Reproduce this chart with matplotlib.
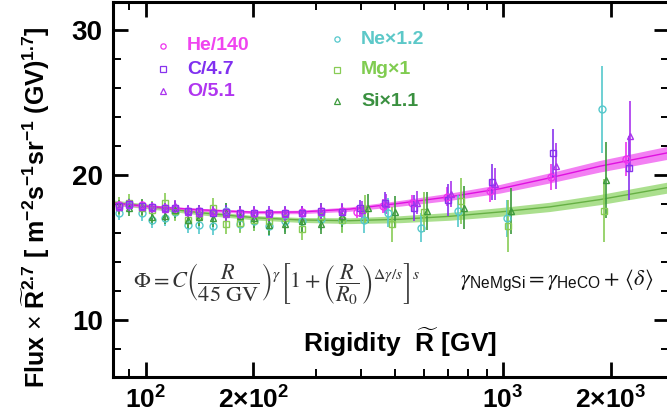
import matplotlib
matplotlib.use("Agg")
import matplotlib.pyplot as plt
from matplotlib.ticker import FixedLocator, NullFormatter

plt.rcParams['font.family'] = ['Liberation Sans', 'DejaVu Sans']
plt.rcParams['mathtext.fontset'] = 'custom'
plt.rcParams['mathtext.rm'] = 'Liberation Sans'
plt.rcParams['mathtext.bf'] = 'Liberation Sans:bold'
plt.rcParams['mathtext.it'] = 'Liberation Sans:italic'

# common low-rigidity bins (GV)
R_low = [84, 90, 97.5, 104.5, 113, 121, 131, 141.5, 154, 168, 184, 201,
         222, 246, 274, 310, 355]

R_he = R_low + [391, 462, 557, 698, 920, 1361, 2206]
he = [17.95, 18.0, 17.9, 17.8, 17.75, 17.7, 17.55, 17.5, 17.45, 17.45, 17.4, 17.4,
      17.35, 17.4, 17.45, 17.5, 17.55, 17.45, 17.85, 18.1, 18.5, 18.9, 19.85, 21.1]
he_err = [0.25, 0.25, 0.25, 0.25, 0.25, 0.25, 0.25, 0.25, 0.25, 0.3, 0.3, 0.3,
          0.3, 0.3, 0.35, 0.35, 0.35, 0.4, 0.5, 0.55, 0.65, 0.75, 0.9, 1.2]

R_c = R_low + [398, 468, 563, 703, 932, 1380, 2250]
c = [17.85, 18.0, 17.85, 17.8, 17.7, 17.75, 17.55, 17.55, 17.4, 17.45, 17.4, 17.4,
     17.38, 17.38, 17.38, 17.55, 17.45, 17.7, 18.1, 17.7, 18.3, 19.5, 21.5, 20.5]
c_err = [0.35, 0.35, 0.35, 0.35, 0.35, 0.4, 0.4, 0.4, 0.4, 0.45, 0.45, 0.45,
         0.45, 0.5, 0.5, 0.5, 0.55, 0.6, 0.7, 0.9, 1.1, 1.25, 1.65, 2.2]

R_o = R_low + [404, 472, 575, 715, 950, 1404, 2273]
o = [17.8, 17.9, 17.8, 17.75, 17.65, 17.85, 17.45, 17.4, 17.5, 17.3, 17.3, 17.35,
     17.3, 17.3, 17.35, 17.45, 17.5, 17.6, 18.0, 18.1, 18.7, 19.4, 20.6, 22.7]
o_err = [0.35, 0.35, 0.35, 0.35, 0.35, 0.4, 0.4, 0.4, 0.4, 0.45, 0.45, 0.45,
         0.45, 0.5, 0.5, 0.5, 0.55, 0.6, 0.7, 0.8, 0.9, 1.1, 1.6, 2.4]

R_ne = R_low + [409, 476, 588, 750, 1023, 1892]
ne = [17.4, 17.9, 17.35, 16.9, 17.0, 17.45, 16.55, 16.55, 16.45, 17.5, 16.65, 16.8,
      16.45, 16.8, 16.85, 16.95, 16.9, 16.9, 17.4, 16.35, 17.5, 17.0, 24.55]
ne_err = [0.5, 0.5, 0.5, 0.55, 0.55, 0.55, 0.55, 0.6, 0.6, 0.6, 0.6, 0.65,
          0.65, 0.7, 0.7, 0.75, 0.8, 0.9, 1.0, 1.0, 1.1, 1.3, 3.0]

R_mg = R_low + [412, 489, 600, 765, 1033, 1914]
mg = [17.86, 18.06, 17.7, 17.6, 18.1, 17.5, 16.9, 17.2, 17.7, 16.6, 16.7, 16.9,
      16.8, 17.0, 16.3, 17.2, 16.9, 17.65, 16.6, 17.45, 18.2, 16.5, 17.55]
mg_err = [0.6, 0.6, 0.6, 0.6, 0.65, 0.65, 0.65, 0.7, 0.7, 0.7, 0.7, 0.75,
          0.75, 0.8, 0.8, 0.85, 0.9, 1.0, 1.2, 1.4, 1.6, 1.8, 2.2]

R_si = R_low + [419, 498, 613, 777, 1055, 1942]
si = [17.8, 17.75, 17.8, 17.1, 17.2, 17.6, 16.9, 17.1, 17.0, 17.4, 17.2, 17.0,
      16.55, 16.65, 16.85, 16.65, 17.2, 17.7, 17.45, 17.5, 17.75, 17.5, 19.65]
si_err = [0.5, 0.55, 0.55, 0.55, 0.55, 0.6, 0.6, 0.6, 0.6, 0.65, 0.65, 0.65,
          0.7, 0.7, 0.75, 0.75, 0.8, 1.0, 1.1, 1.3, 1.5, 1.6, 2.6]

# fitted curves with uncertainty bands
R_fit = [81, 100, 142, 203, 271, 373, 515, 710, 980, 1351, 1863, 2914]
fit_heco = [18.07, 17.85, 17.6, 17.43, 17.45, 17.65, 18.05, 18.5, 19.05, 19.8, 20.6, 21.55]
band_heco = [0.12, 0.1, 0.1, 0.1, 0.12, 0.15, 0.2, 0.25, 0.3, 0.35, 0.4, 0.45]
fit_nemgsi = [18.1, 17.85, 17.4, 17.05, 16.9, 16.85, 16.95, 17.15, 17.45, 17.8, 18.3, 19.15]
band_nemgsi = [0.18, 0.16, 0.15, 0.15, 0.17, 0.2, 0.24, 0.27, 0.3, 0.32, 0.35, 0.38]

col_he, col_c, col_o = '#ee33ee', '#8833ee', '#aa33ee'
col_ne, col_mg, col_si = '#55c8cc', '#88cc55', '#3d9a3d'

fig = plt.figure(figsize=(6.67, 4.2), dpi=100)
ax = fig.add_axes([112.5 / 667, 1 - 377 / 420, (669 - 112.5) / 667, (377 - 1.7) / 420])
ax.set_xscale('log')
ax.set_xlim(80.8, 2914)
ax.set_ylim(6.07, 31.95)

lo = [f - b for f, b in zip(fit_nemgsi, band_nemgsi)]
hi = [f + b for f, b in zip(fit_nemgsi, band_nemgsi)]
ax.fill_between(R_fit, lo, hi, color='#96d872', alpha=0.8, lw=0, zorder=1)
ax.plot(R_fit, fit_nemgsi, color='#66b044', lw=1, zorder=2)
lo = [f - b for f, b in zip(fit_heco, band_heco)]
hi = [f + b for f, b in zip(fit_heco, band_heco)]
ax.fill_between(R_fit, lo, hi, color='#f060f0', alpha=0.8, lw=0, zorder=1)
ax.plot(R_fit, fit_heco, color='#e010e0', lw=1, zorder=2)

series = [
    (R_ne, ne, ne_err, 'o', col_ne),
    (R_mg, mg, mg_err, 's', col_mg),
    (R_si, si, si_err, '^', col_si),
    (R_he, he, he_err, 'o', col_he),
    (R_c, c, c_err, 's', col_c),
    (R_o, o, o_err, '^', col_o),
]
for x, y, e, m, col in series:
    ax.errorbar(x, y, yerr=e, fmt=m, ms=5, mfc='none', mec=col, mew=1.0,
                ecolor=col, elinewidth=1.2, capsize=0, zorder=3)

# legend entries
left_leg = [('o', col_he, 'He/140', '#f044f0'),
            ('s', col_c, 'C/4.7', '#8030f0'),
            ('^', col_o, 'O/5.1', '#b035f0')]
right_leg = [('o', col_ne, 'Ne\u00d71.2', '#5cc8c8'),
             ('s', col_mg, 'Mg\u00d71', '#80cc50'),
             ('^', col_si, 'Si\u00d71.1', '#3a9040')]

def px(xp, yp):
    return ((xp - 112.5) / (669 - 112.5), (377 - yp) / (377 - 1.7))

for (m, mc, lab, tc), yp in zip(left_leg, [46, 69, 91]):
    ax.plot(*px(163, yp), marker=m, ms=3.8, mfc='none', mec=mc, mew=0.9,
            transform=ax.transAxes, clip_on=False)
    ax.text(*px(187, yp), lab, color=tc, fontsize=14, fontweight='bold',
            va='center', ha='left', transform=ax.transAxes)
for (m, mc, lab, tc), yp in zip(right_leg, [39, 70, 101]):
    ax.plot(*px(337, yp), marker=m, ms=3.8, mfc='none', mec=mc, mew=0.9,
            transform=ax.transAxes, clip_on=False)
    ax.text(*px(361, yp), lab, color=tc, fontsize=14, fontweight='bold',
            va='center', ha='left', transform=ax.transAxes)

# fit formulas
ax.text(*px(133, 283),
        r'$\Phi = C\left(\dfrac{R}{45\ \mathrm{GV}}\right)^{\gamma}'
        r'\left[1+\left(\dfrac{R}{R_0}\right)^{\Delta\gamma/s}\right]^{s}$',
        fontsize=16, math_fontfamily='stix', va='center', ha='left',
        transform=ax.transAxes, color='#333333')
ax.text(*px(460, 280),
        r'$\gamma_{\mathregular{NeMgSi}} = \gamma_{\mathregular{HeCO}}+\,\langle\delta\rangle$',
        fontsize=16, math_fontfamily='stix', va='center', ha='left',
        transform=ax.transAxes, color='#111111')

# axis labels
ax.text(*px(400, 342), r'Rigidity  $\mathbf{\widetilde{R}}$ [GV]', fontsize=19,
        fontweight='bold', ha='center', va='center', transform=ax.transAxes)
fig.text(36 / 667, 1 - 207 / 420,
         r'Flux $\times$ $\mathbf{\widetilde{R}^{2.7}}$ [ m$^{\mathbf{-2}}$s$^{\mathbf{-1}}$'
         r'sr$^{\mathbf{-1}}$ (GV)$^{\mathbf{1.7}}$]',
         fontsize=18, fontweight='bold', rotation=90, ha='center', va='center')

# ticks
ax.xaxis.set_major_locator(FixedLocator([100, 200, 1000, 2000]))
ax.xaxis.set_minor_locator(FixedLocator([90, 300, 400, 500, 600, 700, 800, 900]))
ax.xaxis.set_minor_formatter(NullFormatter())
ax.set_xticklabels([r'$\mathbf{10^2}$', r'$\mathbf{2{\times}10^2}$',
                    r'$\mathbf{10^3}$', r'$\mathbf{2{\times}10^3}$'])
ax.yaxis.set_major_locator(FixedLocator([10, 20, 30]))
ax.yaxis.set_minor_locator(FixedLocator([8, 12, 14, 16, 18, 22, 24, 26, 28]))
ax.set_yticklabels(['10', '20', '30'])
ax.tick_params(which='both', direction='in', top=True, right=True)
ax.tick_params(which='major', length=11, width=2.0, labelsize=19, pad=7)
ax.tick_params(which='minor', length=6, width=1.4)
for lab in ax.get_yticklabels():
    lab.set_fontweight('bold')
    lab.set_fontsize(20)
for s in ax.spines.values():
    s.set_linewidth(2.2)

fig.savefig('out.png', dpi=100)
